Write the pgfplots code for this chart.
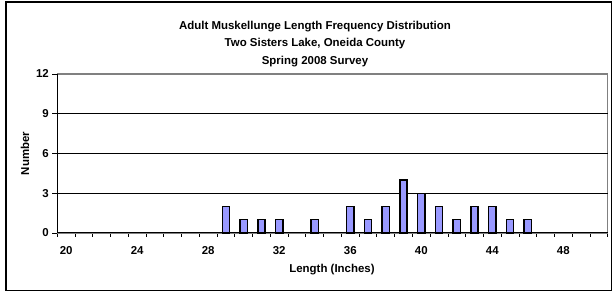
\documentclass[border=0pt]{standalone}
\usepackage{pgfplots}
\pgfplotsset{compat=1.18}
\usepackage{fontspec}
\setmainfont{Liberation Sans}
\definecolor{barfill}{RGB}{153,153,255}
\definecolor{plotgray}{RGB}{128,128,128}
\begin{document}
\begin{tikzpicture}
\useasboundingbox (0bp,0bp) rectangle (615bp,293bp);
\draw[black,line width=1.3bp] (6bp,2.5bp) rectangle (611.5bp,291bp);
\begin{axis}[
  at={(57.3bp,60bp)}, anchor=south west,
  scale only axis, width=550.4bp, height=159bp,
  xmin=19.5, xmax=50.5, ymin=0, ymax=12,
  axis line style={plotgray, line width=1.2bp},
  ybar, bar width=0.41,
  xtick={20,24,...,48},
  minor xtick={19.5,20.5,...,50.5},
  ytick={0,3,...,12},
  tick align=outside, tick pos=left,
  major x tick style={draw=none},
  minor x tick style={black, line width=0.8bp},
  minor tick length=4bp,
  major tick length=5bp,
  y tick style={black, line width=0.8bp},
  extra y ticks={3,6,9}, extra y tick labels={},
  extra y tick style={grid=major, major tick length=0pt},
  major grid style={black, line width=0.9bp},
  ticklabel style={font=\bfseries\fontsize{11.5}{13}\selectfont},
  xticklabel style={yshift=-5bp},
  /pgf/number format/assume math mode=true,
  clip=false,
]
\addplot[fill=barfill, draw=black, line width=1.4bp] coordinates {
  (29,2) (30,1) (31,1) (32,1) (34,1) (36,2) (37,1) (38,2) (39,4)
  (40,3) (41,2) (42,1) (43,2) (44,2) (45,1) (46,1)
};
\draw[black, line width=1bp] (rel axis cs:0,1) -- (rel axis cs:0,0) -- (rel axis cs:1,0);
\end{axis}
\node[font=\bfseries\fontsize{11.5}{13}\selectfont] at (332bp,23bp) {Length (Inches)};
\node[rotate=90, font=\bfseries\fontsize{11.5}{13}\selectfont] at (25bp,139.5bp) {Number};
\node[align=center, font=\bfseries\fontsize{11.5}{17.5}\selectfont] at (315bp,249bp) {Adult Muskellunge Length Frequency Distribution\\Two Sisters Lake, Oneida County\\Spring 2008 Survey};
\end{tikzpicture}
\end{document}
